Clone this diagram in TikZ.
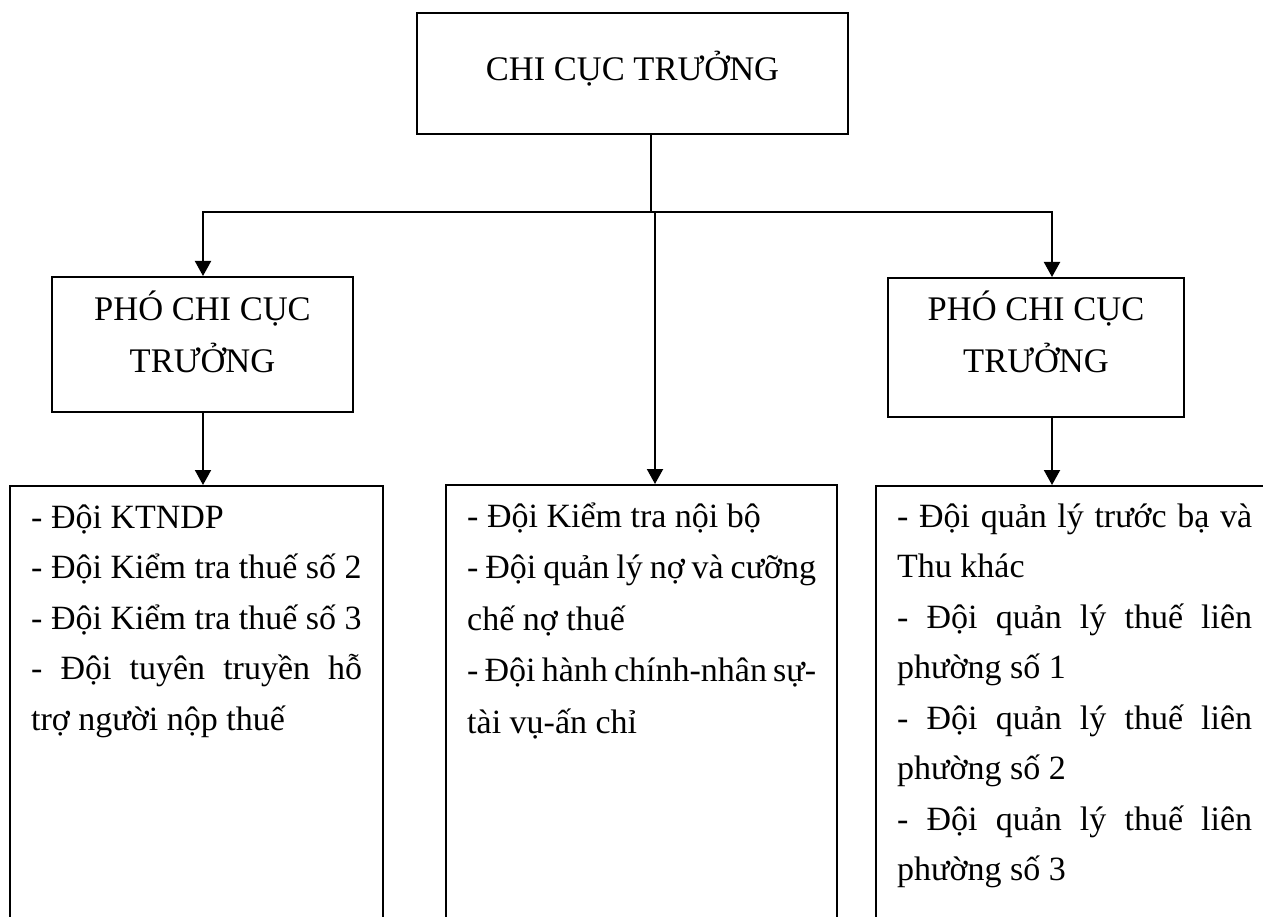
\documentclass[tikz,border=0pt]{standalone}
\usepackage{fontspec}
\setmainfont{Liberation Serif}
\usetikzlibrary{arrows.meta}
\newcommand\myjust[1]{\makebox[\linewidth][s]{#1}\par}
\newcommand\myleft[1]{\makebox[\linewidth][l]{#1}\par}
\begin{document}
\begin{tikzpicture}[x=1pt,y=-1pt,
  box/.style={draw, line width=2pt, inner sep=0pt, rectangle},
  txt/.style={inner sep=0pt, font=\fontsize{34}{50.5}\selectfont},
  conn/.style={line width=2pt},
  arr/.style={conn, -{Triangle[width=16pt,length=15pt]}}]
\useasboundingbox (0,0) rectangle (1263,917);
\clip (0,0) rectangle (1263,917);
\fill[white] (0,0) rectangle (1263,917);
% boxes
\node[box, minimum width=431pt, minimum height=121pt] (top) at (632.5,73.5) {};
\node[box, minimum width=301pt, minimum height=135pt] (lp) at (202.5,344.5) {};
\node[box, minimum width=296pt, minimum height=139pt] (rp) at (1036,347.5) {};
\node[box, minimum width=373pt, minimum height=474pt] (lb) at (196.5,723) {};
\node[box, minimum width=391pt, minimum height=475pt] (mb) at (641.5,722.5) {};
\node[box, minimum width=414pt, minimum height=474pt] (rb) at (1083,723) {};
% texts
\node[txt, anchor=base] (toptxt) at (632.5,81) {\fontsize{34.5}{50.5}\selectfont CHI CỤC TRƯỞNG};
\node[txt, anchor=base] (lptxt) at (202.5,320) {\parbox[t]{300pt}{\fontsize{34.5}{52.5}\selectfont\centering PHÓ CHI CỤC\\TRƯỞNG}};
\node[txt, anchor=base] (rptxt) at (1036,320) {\parbox[t]{290pt}{\fontsize{34.5}{52}\selectfont\centering PHÓ CHI CỤC\\TRƯỞNG}};
\node[txt, anchor=base west] (lbt) at (31,528) {\parbox[t]{331pt}{\fontsize{34}{50.5}\selectfont
\myleft{- Đội KTNDP}
\myleft{- Đội Kiểm tra thuế số 2}
\myleft{- Đội Kiểm tra thuế số 3}
\myjust{- Đội tuyên truyền hỗ}
\myleft{trợ người nộp thuế}}};
\node[txt, anchor=base west] (mbt) at (467,527) {\parbox[t]{349pt}{\fontsize{34}{51.5}\selectfont
\myleft{- Đội Kiểm tra nội bộ}
\myjust{- Đội quản lý nợ và cưỡng}
\myleft{chế nợ thuế}
\myjust{- Đội hành chính-nhân sự-}
\myleft{tài vụ-ấn chỉ}}};
\node[txt, anchor=base west] (rbt) at (897,527) {\parbox[t]{355pt}{\fontsize{34}{50.5}\selectfont
\myjust{- Đội quản lý trước bạ và}
\myleft{Thu khác}
\myjust{- Đội quản lý thuế liên}
\myleft{phường số 1}
\myjust{- Đội quản lý thuế liên}
\myleft{phường số 2}
\myjust{- Đội quản lý thuế liên}
\myleft{phường số 3}}};
% connectors
\coordinate (j) at (651,212);
\coordinate (jl) at (203,212);
\coordinate (jr) at (1052,212);
\coordinate (jm) at (655,212);
\draw[conn] (top.south -| j) -- (j);
\draw[conn, line cap=rect] (jl) -- (jr);
\draw[arr] (jl) -- (jl |- lp.north);
\draw[arr] (jr) -- (jr |- rp.north);
\draw[arr] (jm) -- (jm |- mb.north);
\draw[arr] (lp.south -| jl) -- (lb.north -| jl);
\draw[arr] (rp.south -| jr) -- (rb.north -| jr);
\end{tikzpicture}
\end{document}
